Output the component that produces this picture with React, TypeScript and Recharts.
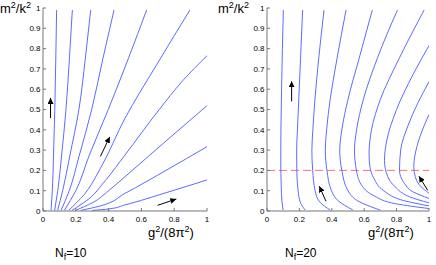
import React from "react";
import { LineChart, Line, XAxis, YAxis, ReferenceLine } from "recharts";

type Pt = [number, number];

const xTicks = [0, 0.2, 0.4, 0.6, 0.8, 1];
const yTicks = [0, 0.1, 0.2, 0.3, 0.4, 0.5, 0.6, 0.7, 0.8, 0.9, 1];

// N_f = 10 trajectories, points ordered by m^2/k^2
const nf10a: Pt[] = [[0.049, 0.003], [0.057, 0.1], [0.064, 0.27], [0.072, 0.5], [0.078, 0.75], [0.083, 0.99]];
const nf10b: Pt[] = [[0.071, 0.003], [0.09, 0.1], [0.113, 0.27], [0.14, 0.5], [0.161, 0.75], [0.179, 0.99]];
const nf10c: Pt[] = [[0.089, 0.003], [0.12, 0.1], [0.163, 0.27], [0.219, 0.5], [0.258, 0.75], [0.291, 0.99]];
const nf10d: Pt[] = [[0.11, 0.003], [0.16, 0.1], [0.22, 0.27], [0.297, 0.5], [0.365, 0.75], [0.433, 0.99]];
const nf10e: Pt[] = [[0.13, 0.003], [0.2, 0.1], [0.28, 0.27], [0.398, 0.5], [0.52, 0.75], [0.632, 0.99]];
const nf10f: Pt[] = [[0.157, 0.003], [0.25, 0.08], [0.35, 0.21], [0.5, 0.457], [0.7, 0.73], [0.896, 0.99]];
const nf10g: Pt[] = [[0.177, 0.003], [0.28, 0.06], [0.38, 0.15], [0.5, 0.276], [0.709, 0.5], [0.85, 0.64], [1, 0.765]];
const nf10h: Pt[] = [[0.197, 0.003], [0.3, 0.04], [0.4, 0.1], [0.5, 0.169], [0.75, 0.345], [1, 0.519]];
const nf10i: Pt[] = [[0.23, 0.003], [0.35, 0.025], [0.5, 0.087], [0.75, 0.2], [1, 0.317]];
const nf10j: Pt[] = [[0.3, 0.003], [0.4, 0.01], [0.5, 0.03], [0.75, 0.09], [1, 0.153]];

// N_f = 20 trajectories
const nf20a: Pt[] = [[0.099, 0.005], [0.092, 0.05], [0.088, 0.12], [0.085, 0.25], [0.086, 0.4], [0.09, 0.6], [0.095, 0.8], [0.101, 0.99]];
const nf20b: Pt[] = [[0.235, 0.005], [0.207, 0.04], [0.192, 0.1], [0.184, 0.2], [0.183, 0.3], [0.188, 0.4], [0.196, 0.55], [0.207, 0.75], [0.22, 0.99]];
const nf20c: Pt[] = [[0.39, 0.005], [0.325, 0.045], [0.297, 0.1], [0.282, 0.2], [0.277, 0.3], [0.283, 0.4], [0.296, 0.55], [0.319, 0.75], [0.352, 0.99]];
const nf20d: Pt[] = [[0.53, 0.005], [0.44, 0.05], [0.398, 0.1], [0.37, 0.2], [0.36, 0.3], [0.368, 0.4], [0.39, 0.55], [0.432, 0.75], [0.488, 0.99]];
const nf20e: Pt[] = [[0.7, 0.004], [0.56, 0.05], [0.5, 0.1], [0.462, 0.2], [0.449, 0.3], [0.462, 0.4], [0.5, 0.55], [0.568, 0.75], [0.65, 0.99]];
const nf20f: Pt[] = [[1, 0.012], [0.8, 0.035], [0.66, 0.075], [0.59, 0.12], [0.552, 0.2], [0.54, 0.3], [0.553, 0.4], [0.595, 0.55], [0.68, 0.75], [0.805, 0.99]];
const nf20g: Pt[] = [[1, 0.025], [0.85, 0.05], [0.72, 0.1], [0.66, 0.16], [0.635, 0.22], [0.63, 0.28], [0.645, 0.4], [0.7, 0.55], [0.815, 0.75], [0.97, 0.99]];
const nf20h: Pt[] = [[1, 0.04], [0.88, 0.07], [0.79, 0.12], [0.745, 0.17], [0.725, 0.25], [0.74, 0.35], [0.8, 0.5], [0.9, 0.67], [1, 0.815]];
const nf20i: Pt[] = [[1, 0.062], [0.9, 0.095], [0.845, 0.14], [0.818, 0.2], [0.825, 0.3], [0.87, 0.42], [0.93, 0.53], [1, 0.637]];
const nf20j: Pt[] = [[1, 0.088], [0.95, 0.12], [0.915, 0.17], [0.906, 0.22], [0.92, 0.3], [0.955, 0.39], [1, 0.475]];

// flow direction arrows (tail -> head)
const arrows10: Pt[][] = [
  [[0.046, 0.458], [0.046, 0.557]],
  [[0.35, 0.269], [0.407, 0.365]],
  [[0.699, 0.028], [0.813, 0.059]],
];
const arrows20: Pt[][] = [
  [[0.152, 0.54], [0.152, 0.639]],
  [[0.364, 0.048], [0.323, 0.122]],
  [[0.992, 0.102], [0.938, 0.171]],
];

const criticalMass = 0.2;

const nf10Curves = [nf10a, nf10b, nf10c, nf10d, nf10e, nf10f, nf10g, nf10h, nf10i, nf10j];
const nf20Curves = [nf20a, nf20b, nf20c, nf20d, nf20e, nf20f, nf20g, nf20h, nf20i, nf20j];

const font = "'Liberation Sans', Arial, Helvetica, sans-serif";
const lineBlue = "#5c6cff";
const axisGray = "#777";

const rows = (pts: Pt[]) => pts.map(([x, y]) => ({ x, y }));

function Panel({ curves, arrows, yAxisWidth, right, refY }: { curves: Pt[][]; arrows: Pt[][]; yAxisWidth: number; right: number; refY?: number }) {
  const tick = { fontSize: 8, fill: "#000", fontFamily: font };
  return (
    <LineChart width={218} height={265} margin={{ top: 8, right, bottom: 0, left: 0 }}>
      <XAxis
        dataKey="x"
        type="number"
        domain={[0, 1]}
        ticks={xTicks}
        interval={0}
        allowDataOverflow
        height={54}
        tick={tick}
        tickSize={-3}
        tickMargin={8.5}
        tickLine={{ stroke: axisGray }}
        axisLine={{ stroke: axisGray }}
        tickFormatter={(v) => String(v)}
      />
      <YAxis
        dataKey="y"
        type="number"
        domain={[0, 1]}
        ticks={yTicks}
        interval={0}
        allowDataOverflow
        width={yAxisWidth}
        tick={tick}
        tickSize={-3}
        tickMargin={5.5}
        tickLine={{ stroke: axisGray }}
        axisLine={{ stroke: axisGray }}
        tickFormatter={(v) => String(v)}
      />
      {refY !== undefined && (
        <ReferenceLine y={refY} stroke="#ff6f6f" strokeDasharray="8 4" strokeWidth={1} />
      )}
      {curves.map((c, i) => (
        <Line
          key={"c" + i}
          data={rows(c)}
          dataKey="y"
          type="monotoneY"
          stroke={lineBlue}
          strokeWidth={1}
          dot={false}
          activeDot={false}
          isAnimationActive={false}
        />
      ))}
      {arrows.map((a, i) => (
        <Line
          key={"a" + i}
          data={rows(a)}
          dataKey="y"
          type="linear"
          stroke="#000"
          strokeWidth={1}
          dot={false}
          activeDot={false}
          markerEnd="url(#flowhead)"
          isAnimationActive={false}
        />
      ))}
    </LineChart>
  );
}

export default function App() {
  const lbl = { fontFamily: font, fill: "#000" };
  return (
    <div style={{ position: "absolute", left: 0, top: 0, width: 436, height: 265, background: "#fff" }}>
      <div style={{ position: "absolute", left: 0, top: 0 }}>
        <Panel curves={nf10Curves} arrows={arrows10} yAxisWidth={43} right={11} />
      </div>
      <div style={{ position: "absolute", left: 218, top: 0 }}>
        <Panel curves={nf20Curves} arrows={arrows20} yAxisWidth={49} right={7} refY={criticalMass} />
      </div>
      <svg width={436} height={265} style={{ position: "absolute", left: 0, top: 0, pointerEvents: "none" }}>
        <defs>
          <marker id="flowhead" markerUnits="userSpaceOnUse" markerWidth={7} markerHeight={6} refX={6} refY={3} orient="auto">
            <path d="M0,0 L6,3 L0,6 z" fill="#000" />
          </marker>
        </defs>
        <text x={0} y={12.5} fontSize={13} {...lbl}>
          m<tspan fontSize={9} dy={-5}>2</tspan><tspan dy={5}>/k</tspan><tspan fontSize={9} dy={-5}>2</tspan>
        </text>
        <text x={218} y={12.5} fontSize={13} {...lbl}>
          m<tspan fontSize={9} dy={-5}>2</tspan><tspan dy={5}>/k</tspan><tspan fontSize={9} dy={-5}>2</tspan>
        </text>
        <text x={148} y={237} fontSize={13} {...lbl}>
          g<tspan fontSize={9} dy={-5}>2</tspan><tspan dy={5}>/(8π</tspan><tspan fontSize={9} dy={-5}>2</tspan><tspan dy={5}>)</tspan>
        </text>
        <text x={368} y={237} fontSize={13} {...lbl}>
          g<tspan fontSize={9} dy={-5}>2</tspan><tspan dy={5}>/(8π</tspan><tspan fontSize={9} dy={-5}>2</tspan><tspan dy={5}>)</tspan>
        </text>
        <text x={55} y={256.5} fontSize={12} {...lbl}>
          N<tspan fontSize={9} dy={3}>f</tspan><tspan dy={-3}>=10</tspan>
        </text>
        <text x={285} y={256.5} fontSize={12} {...lbl}>
          N<tspan fontSize={9} dy={3}>f</tspan><tspan dy={-3}>=20</tspan>
        </text>
      </svg>
    </div>
  );
}
